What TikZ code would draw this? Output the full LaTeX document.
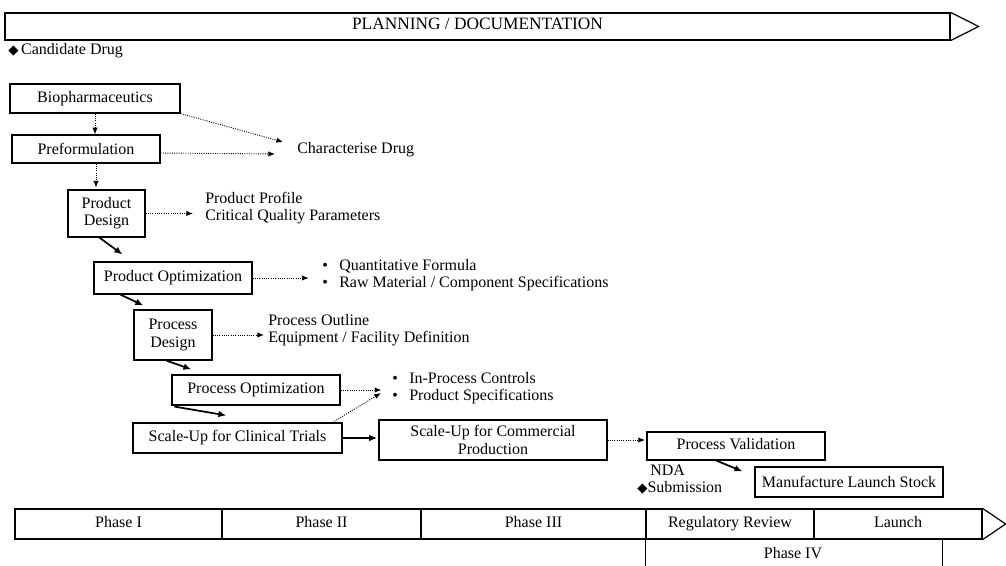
\documentclass[tikz,border=0pt]{standalone}
\usepackage{fontspec}
\setmainfont{Liberation Serif}
\newfontfamily\symfont{DejaVu Sans}
\usetikzlibrary{arrows.meta,calc}
\newcommand\dmd{{\symfont\fontsize{10}{10}\selectfont ◆}}
\newcommand\bul{\makebox[12.75pt][l]{\textbullet}}
\tikzset{
  txt/.style={font=\fontsize{12}{13}\selectfont},
  sz/.style 2 args={minimum width=#1*0.75pt, minimum height=#2*0.75pt},
  stage/.style={txt, draw, line width=0.9pt, inner sep=0pt, align=center},
  cell/.style={txt, draw, line width=0.9pt, inner sep=0pt, text height=0.68em, text depth=0.22em},
  note/.style={txt, inner sep=0pt, anchor=west, align=left},
  flow/.style={-{Latex[length=6pt,width=5pt]}, line width=1.3pt},
  link/.style={-{Latex[length=5pt,width=4pt]}, densely dotted, line width=0.7pt}
}
\begin{document}
\begin{tikzpicture}[x=0.75pt,y=-0.75pt]
\useasboundingbox (0,0) rectangle (1006,566);
% planning bar
\node[cell, sz={945}{27}, font=\fontsize{13}{14}\selectfont] (plan) at (477.5,26.5) {PLANNING / DOCUMENTATION};
\draw[line width=0.9pt] (plan.north east) -- ($(plan.east)+(28,0)$) -- (plan.south east);
\node[note] (cand) at (8,51) {\dmd\,Candidate Drug};
% stages
\node[stage, sz={170}{29}] (bio) at (95,98.5) {Biopharmaceutics};
\node[stage, sz={148}{28}] (preform) at (86,149) {Preformulation};
\node[stage, sz={77}{47}] (design) at (106.5,213.5) {Product\\Design};
\node[stage, sz={158}{32}] (popt) at (173,278) {Product Optimization};
\node[stage, sz={78}{50}] (pdes) at (173,335) {Process\\Design};
\node[stage, sz={168}{30}] (procopt) at (256,390) {Process Optimization};
\node[stage, sz={209}{30}] (clin) at (237.5,438) {Scale-Up for Clinical Trials};
\node[stage, sz={228}{40}] (comm) at (493,440) {Scale-Up for Commercial\\Production};
\node[stage, sz={178}{28}, text height=0.68em, text depth=0.22em] (pv) at (736,446) {Process Validation};
\node[stage, sz={188}{30}] (manuf) at (849,482) {Manufacture Launch Stock};
% outcomes
\node[note] (chardrug) at (297,150) {Characterise Drug};
\node[note] (profile) at (205,208) {Product Profile\\Critical Quality Parameters};
\node[note] (formula) at (322,275) {\bul Quantitative Formula\\\bul Raw Material / Component Specifications};
\node[note] (outline) at (268,330) {Process Outline\\Equipment / Facility Definition};
\node[note] (controls) at (392,388) {\bul In-Process Controls\\\bul Product Specifications};
\node[note] (nda) at (650,470) {NDA};
\node[note] (sub) at (637,488) {\dmd Submission};
% connectors
\draw[link] (bio.south) -- (bio.south |- preform.north);
\draw[link] ($(preform.south)+(10,0)$) -- ($(preform.south)+(10,24)$);
\draw[link] (bio.south east) -- ($(chardrug.west)+(-14,-8)$);
\draw[link] ($(preform.east)+(0,4)$) -- ($(chardrug.west)+(-22,4)$);
\draw[link, shorten >=9pt] (design.east) -- (design.east -| profile.west);
\draw[link, shorten >=10pt] (popt.east) -- (popt.east -| formula.west);
\draw[link, shorten >=3pt] (pdes.east) -- (pdes.east -| outline.west);
\draw[link, shorten >=8pt] (procopt.east) -- (procopt.east -| controls.west);
\draw[link] ($(clin.north east)+(-10,0)$) -- ($(controls.west)+(-11,5)$);
\draw[link, shorten >=1pt] (comm.east) -- (comm.east -| pv.west);
\draw[flow] ($(design.south west)+(32,0)$) -- ($(popt.north west)+(29,-7)$);
\draw[flow] ($(popt.south west)+(27,0)$) -- ($(pdes.north west)+(10,-4)$);
\draw[flow] ($(pdes.south west)+(33,0)$) -- ($(procopt.north west)+(20,-5)$);
\draw[flow] ($(procopt.south west)+(3,1)$) -- ($(clin.north west)+(94,-7)$);
\draw[flow, line width=0.9pt, shorten >=1pt] (clin.east) -- (clin.east -| comm.west);
\draw[flow] ($(pv.south west)+(70,0)$) -- ($(manuf.north west)+(-12,5)$);
% phase bar
\foreach \l/\r/\t [count=\i, evaluate=\l as \c using {(\l+\r)/2}, evaluate=\l as \w using {\r-\l}]
  in {15/222/Phase I, 222/421/Phase II, 421/646/Phase III, 646/814/Regulatory Review, 814/982/Launch}
  \node[cell, sz={\w}{30}] (ph\i) at (\c,524) {\t};
\draw[line width=0.9pt] (ph5.north east) -- ($(ph5.east)+(23,0)$) -- (ph5.south east);
\draw[line width=0.9pt] (ph4.south west) -- ++(0,27);
\draw[line width=0.9pt] ($(ph5.south west)+(129,0)$) -- ++(0,27);
\node[txt] (ph6) at (793,553) {Phase IV};
\end{tikzpicture}
\end{document}
